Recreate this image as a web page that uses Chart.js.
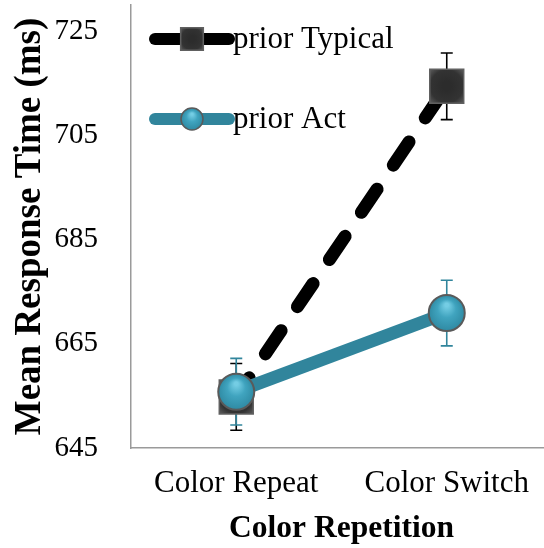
<!DOCTYPE html>
<html>
<head>
<meta charset="utf-8">
<script src="https://cdn.jsdelivr.net/npm/chart.js@4.4.0/dist/chart.umd.min.js"></script>
<style>
    html, body { margin: 0; padding: 0; background: #fff; overflow: hidden; }
    #wrap { width: 552px; height: 548px; }
</style>
</head>
<body>
<div id="wrap"><canvas id="rtChart"></canvas></div>
<script>
// --- dados ---
const categories = ['Color Repeat', 'Color Switch'];
const typicalValues = [654.8, 714.4];
const typicalErrors = [6.4, 6.4];
const actValues = [655.8, 670.9];
const actErrors = [6.4, 6.3];
const yTicks = [645, 665, 685, 705, 725];

const serif = '"Liberation Serif", "DejaVu Serif", serif';
const teal = '#31859c';

// preenchimentos com leve relevo, como no original
function ballFill(ctx, x, y, r) {
    const g = ctx.createRadialGradient(x, y - r * 0.45, r * 0.1, x, y, r);
    g.addColorStop(0, '#74cde4');
    g.addColorStop(0.45, '#40a4bf');
    g.addColorStop(1, '#2f8aa3');
    return g;
}

function boxFill(ctx, x, y, r) {
    const g = ctx.createRadialGradient(x, y, r * 0.2, x, y, r);
    g.addColorStop(0, '#2c2c2c');
    g.addColorStop(0.6, '#333333');
    g.addColorStop(1, '#5e5e5e');
    return g;
}

function pointFill(fillFn, radius, flat) {
    return (c) => {
        if (c.type !== 'data') return flat;
        const ch = c.chart;
        if (!ch.scales.x || !ch.scales.y) return flat;
        const x = ch.scales.x.getPixelForValue(c.dataIndex);
        const y = ch.scales.y.getPixelForValue(c.raw);
        if (!isFinite(x) || !isFinite(y)) return flat;
        return fillFn(ch.ctx, x, y, radius);
    };
}

// barras de erro, desenhadas antes das linhas
const errorBars = {
    id: 'errorBars',
    beforeDatasetsDraw(chart) {
        const ctx = chart.ctx;
        const y = chart.scales.y;
        chart.data.datasets.forEach((ds, i) => {
            const meta = chart.getDatasetMeta(i);
            ctx.save();
            ctx.strokeStyle = ds.errColor;
            ctx.lineWidth = 1.6;
            meta.data.forEach((pt, j) => {
                const top = y.getPixelForValue(ds.data[j] + ds.errors[j]);
                const bot = y.getPixelForValue(ds.data[j] - ds.errors[j]);
                ctx.beginPath();
                ctx.moveTo(pt.x, top); ctx.lineTo(pt.x, bot);
                ctx.moveTo(pt.x - 6, top); ctx.lineTo(pt.x + 6, top);
                ctx.moveTo(pt.x - 6, bot); ctx.lineTo(pt.x + 6, bot);
                ctx.stroke();
            });
            ctx.restore();
        });
    }
};

// legenda dentro do gráfico, linha + marcador
const insideLegend = {
    id: 'insideLegend',
    afterDraw(chart) {
        const ctx = chart.ctx;
        const rows = [39, 119];
        chart.data.datasets.forEach((ds, i) => {
            const yy = rows[i];
            const isBox = ds.pointStyle === 'rect';
            const r = isBox ? 16 : 11;
            ctx.save();
            ctx.strokeStyle = ds.borderColor;
            ctx.lineWidth = 12;
            ctx.lineCap = 'round';
            ctx.beginPath();
            ctx.moveTo(155, yy); ctx.lineTo(229, yy);
            ctx.stroke();
            ctx.fillStyle = isBox ? boxFill(ctx, 192, yy, r) : ballFill(ctx, 192, yy, r);
            ctx.strokeStyle = ds.pointBorderColor;
            ctx.lineWidth = 1.5;
            Chart.helpers.drawPoint(ctx, {
                pointStyle: ds.pointStyle,
                radius: r,
                borderWidth: 1.5,
                rotation: 0
            }, 192, yy);
            ctx.fillStyle = '#000';
            ctx.font = '31px ' + serif;
            ctx.textBaseline = 'middle';
            ctx.textAlign = 'left';
            ctx.fillText(ds.label, 233, yy + 1);
            ctx.restore();
        });
    }
};

// sem folgas automáticas nas pontas dos eixos
function noPadding(scale) {
    scale.paddingTop = 0;
    scale.paddingBottom = 0;
    scale.paddingLeft = 0;
    scale.paddingRight = 0;
}

const chart = new Chart(document.getElementById('rtChart'), {
    type: 'line',
    data: {
        labels: categories,
        datasets: [{
            label: 'prior Typical',
            data: typicalValues,
            errors: typicalErrors,
            errColor: '#000',
            borderColor: '#000',
            borderWidth: 13,
            borderDash: [28, 29],
            borderDashOffset: 5,
            borderCapStyle: 'round',
            pointStyle: 'rect',
            pointRadius: 24,
            pointBackgroundColor: pointFill(boxFill, 24, '#363636'),
            pointBorderColor: '#606060',
            pointBorderWidth: 1.5,
            order: 1
        }, {
            label: 'prior Act',
            data: actValues,
            errors: actErrors,
            errColor: teal,
            borderColor: teal,
            borderWidth: 13,
            pointStyle: 'circle',
            pointRadius: 18,
            pointBackgroundColor: pointFill(ballFill, 18, '#3fa2bd'),
            pointBorderColor: '#5a5a5a',
            pointBorderWidth: 2,
            order: 0
        }]
    },
    options: {
        responsive: true,
        maintainAspectRatio: false,
        animation: false,
        layout: { autoPadding: false, padding: { top: 5, left: 0, right: 0, bottom: 0 } },
        plugins: {
            legend: { display: false },
            tooltip: { enabled: false }
        },
        scales: {
            x: {
                offset: true,
                grid: { display: false, drawTicks: false },
                border: { display: true, color: '#9a9a9a', width: 1.5 },
                ticks: { color: '#000', font: { family: serif, size: 31 }, padding: 17, maxRotation: 0 },
                title: {
                    display: true, text: 'Color Repetition', color: '#000',
                    font: { family: serif, size: 31.5, weight: 'bold' },
                    padding: { top: 0, bottom: 0 }
                },
                afterFit(scale) { scale.height = 100; noPadding(scale); }
            },
            y: {
                min: 645,
                max: 730,
                grid: { display: false, drawTicks: false },
                border: { display: true, color: '#9a9a9a', width: 1.5 },
                afterBuildTicks(scale) { scale.ticks = yTicks.map(v => ({ value: v })); },
                ticks: { color: '#000', font: { family: serif, size: 29 }, padding: 33 },
                title: {
                    display: true, text: 'Mean Response Time (ms)', color: '#000',
                    font: { family: serif, size: 37, weight: 'bold' },
                    padding: { top: 8, bottom: 0 }
                },
                afterFit(scale) { scale.width = 131; noPadding(scale); }
            }
        }
    },
    plugins: [errorBars, insideLegend]
});
</script>
</body>
</html>
